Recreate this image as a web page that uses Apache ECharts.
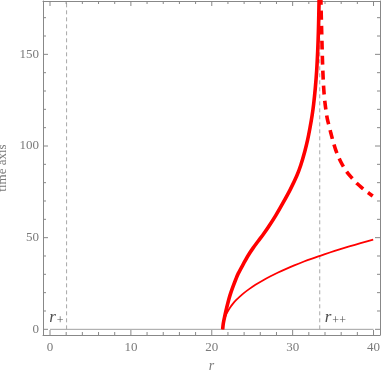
<!DOCTYPE html>
<html>
<head>
<meta charset="utf-8">
<script src="https://cdn.jsdelivr.net/npm/echarts@6/dist/echarts.min.js"></script>
<style>
  html, body { margin: 0; padding: 0; background: #fff; }
  #chart { width: 382px; height: 376px; }
</style>
</head>
<body>
<div id="chart"></div>
<script>
// thick solid branch
const thickR = [21.35, 21.42, 21.55, 21.75, 22.0, 22.25, 22.6, 23.0, 23.28, 23.9, 24.5, 25.1, 25.75, 26.4, 27.0, 27.9, 28.84, 29.7, 30.5, 31.0, 31.5, 31.85, 32.14, 32.4, 32.6, 32.8, 32.97, 33.1, 33.18, 33.23, 33.27, 33.3]
const thickT = [0, 3, 6, 10, 14.5, 18.5, 23.0, 27.6, 30.5, 35.6, 40.3, 44.3, 48.2, 52.0, 55.8, 62.0, 69.2, 76.2, 83.6, 89.5, 97.0, 103.3, 109.8, 116.5, 123.0, 131.5, 141, 152, 162, 171, 180, 186]
// thin solid branch
const thinR = [21.35, 21.4, 21.5, 21.65, 21.8, 22.0, 22.25, 22.6, 23.0, 23.5, 24.0, 24.7, 25.4, 26.2, 27.2, 28.2, 29.2, 30.2, 31.4, 32.4, 33.4, 34.6, 35.8, 37.0, 38.4, 39.96]
const thinT = [0, 2.5, 4.6, 6.7, 8.3, 10.0, 11.8, 13.9, 15.9, 18.0, 19.9, 22.2, 24.3, 26.4, 28.8, 31.0, 33.0, 34.9, 37.0, 38.6, 40.1, 41.9, 43.6, 45.2, 47.0, 48.9]
// dashed branch
const dashR = [33.48, 33.52, 33.58, 33.64, 33.7, 33.78, 33.88, 34.0, 34.15, 34.3, 34.5, 34.7, 35.0, 35.3, 35.6, 35.9, 36.3, 36.7, 37.1, 37.6, 38.0, 38.5, 39.0, 39.5, 39.9]
const dashT = [182, 174, 164, 154, 145, 136, 129, 123.5, 118.5, 114.5, 111, 107.5, 102.5, 98.2, 94.7, 91.8, 88.6, 85.9, 83.7, 81.2, 79.4, 77.4, 75.6, 74.0, 72.7]
// horizons r+ and r++
const horizonR = [2.05, 33.35]
const horizonNames = ['+', '++']
const baseLineR = [0, 40]

const xMajor = [0, 10, 20, 30, 40]
const xMinor = [2, 4, 6, 8, 12, 14, 16, 18, 22, 24, 26, 28, 32, 34, 36, 38]
const yMajor = [0, 50, 100, 150]
const yMinor = [10, 20, 30, 40, 60, 70, 80, 90, 110, 120, 130, 140, 160, 170]

const X_MIN = -0.866, X_MAX = 40.8, Y_MIN = -3.1, Y_MAX = 179.1
const GRID = { left: 43, right: 2, top: 1, bottom: 41 }
const W = 382, H = 376
const FRAME = '#888888'
const TXT = '#7a7a7a'
const SERIF = '"Liberation Serif", "DejaVu Serif", serif'

const zip = (a, b) => a.map((v, i) => [v, b[i]])

// tick length in data units (pixels -> data along each axis)
const xPerPx = (X_MAX - X_MIN) / (W - GRID.left - GRID.right)
const yPerPx = (Y_MAX - Y_MIN) / (H - GRID.top - GRID.bottom)

function tick(a, b) {
  return {
    type: 'line', data: [a, b], symbol: 'none', silent: true, z: 5, clip: false,
    lineStyle: { color: FRAME, width: 1 }
  }
}
const tickSeries = []
xMajor.concat(xMinor).forEach((v, i) => {
  const d = (i < xMajor.length ? 5 : 3) * yPerPx
  tickSeries.push(tick([v, Y_MIN], [v, Y_MIN + d]), tick([v, Y_MAX], [v, Y_MAX - d]))
})
yMajor.concat(yMinor).forEach((v, i) => {
  const d = (i < yMajor.length ? 5 : 3) * xPerPx
  tickSeries.push(tick([X_MIN, v], [X_MIN + d, v]), tick([X_MAX, v], [X_MAX - d, v]))
})

const frameLine = { show: true, onZero: false, lineStyle: { color: FRAME, width: 1 } }

const chart = echarts.init(document.getElementById('chart'))
chart.setOption({
  animation: false,
  grid: Object.assign({ outerBoundsMode: 'none', containLabel: false }, GRID),
  xAxis: [
    {
      type: 'value', min: X_MIN, max: X_MAX, position: 'bottom',
      axisLine: frameLine, axisTick: { show: false }, splitLine: { show: false },
      axisLabel: { show: true, customValues: xMajor, color: TXT, fontFamily: SERIF, fontSize: 13, margin: 6 },
      name: 'r', nameLocation: 'middle', nameGap: 22,
      nameTextStyle: { color: TXT, fontFamily: SERIF, fontSize: 14, fontStyle: 'italic' }
    },
    {
      type: 'value', min: X_MIN, max: X_MAX, position: 'top',
      axisLine: frameLine, axisTick: { show: false }, splitLine: { show: false }, axisLabel: { show: false }
    }
  ],
  yAxis: [
    {
      type: 'value', min: Y_MIN, max: Y_MAX, position: 'left',
      axisLine: frameLine, axisTick: { show: false }, splitLine: { show: false },
      axisLabel: { show: true, customValues: yMajor, color: TXT, fontFamily: SERIF, fontSize: 13, margin: 4 },
      name: 'time axis', nameLocation: 'middle', nameGap: 31, nameRotate: 90,
      nameTextStyle: { color: TXT, fontFamily: SERIF, fontSize: 13 }
    },
    {
      type: 'value', min: Y_MIN, max: Y_MAX, position: 'right',
      axisLine: frameLine, axisTick: { show: false }, splitLine: { show: false }, axisLabel: { show: false }
    }
  ],
  series: [
    ...tickSeries,
    {
      type: 'line', data: zip(baseLineR, [0, 0]), symbol: 'none', silent: true,
      lineStyle: { color: '#a0a0a0', width: 1 }
    },
    ...horizonR.map(r => ({
      type: 'line', data: [[r, 0], [r, Y_MAX]], symbol: 'none', silent: true,
      lineStyle: { color: '#a8a8a8', width: 1, type: [4, 3] }
    })),
    {
      type: 'line', data: zip(thinR, thinT), symbol: 'none', smooth: 0.3,
      lineStyle: { color: '#ff0000', width: 1.8 }
    },
    {
      type: 'line', data: zip(thickR, thickT), symbol: 'none', smooth: 0.3,
      lineStyle: { color: '#ff0000', width: 3.6 }
    },
    {
      type: 'line', data: zip(dashR, dashT), symbol: 'none', smooth: 0.3,
      lineStyle: { color: '#ff0000', width: 3.6, type: [9, 6], cap: 'butt' }
    },
    {
      type: 'scatter', symbolSize: 0, silent: true,
      data: horizonR.map((r, i) => ({
        value: [r, 0], name: horizonNames[i],
        label: i === 0 ? { position: 'left', distance: 3, offset: [0, -12] } : { position: 'right', distance: 5, offset: [0, -12] }
      })),
      label: {
        show: true,
        formatter: p => '{i|r}{s|' + p.name + '}',
        rich: {
          i: { fontFamily: SERIF, fontStyle: 'italic', fontSize: 17, color: '#222', lineHeight: 20 },
          s: { fontFamily: SERIF, fontSize: 12, color: '#222', lineHeight: 20, verticalAlign: 'bottom', padding: [7, 0, 0, 1] }
        }
      }
    }
  ]
})
</script>
</body>
</html>
